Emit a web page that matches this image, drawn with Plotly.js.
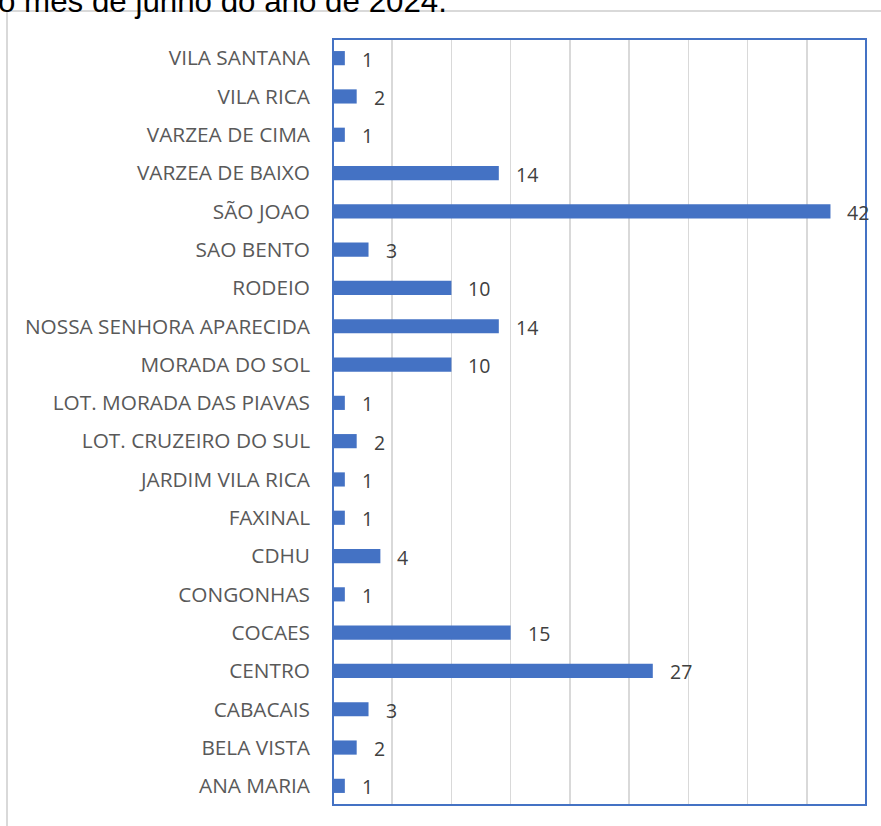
<!DOCTYPE html>
<html>
<head>
<meta charset="utf-8">
<script src="https://cdn.plot.ly/plotly-3.0.1.min.js"></script>
<style>
html,body{margin:0;padding:0;background:#fff;}
#chart{width:881px;height:826px;}
</style>
</head>
<body>
<div id="chart"></div>
<script>
const categories = ["ANA MARIA","BELA VISTA","CABACAIS","CENTRO","COCAES","CONGONHAS","CDHU","FAXINAL","JARDIM VILA RICA","LOT. CRUZEIRO DO SUL","LOT. MORADA DAS PIAVAS","MORADA DO SOL","NOSSA SENHORA APARECIDA","RODEIO","SAO BENTO","SÃO JOAO","VARZEA DE BAIXO","VARZEA DE CIMA","VILA RICA","VILA SANTANA"];
const values = [1,2,3,27,15,1,4,1,1,2,1,10,14,10,3,42,14,1,2,1];
const titleText = "o mês de junho do ano de 2024.";

const W = 881, H = 826;
const L = 333, R = 15, T = 39, B = 21;
const pw = W - L - R, ph = H - T - B;
const px = x => (x - L) / pw;
const py = y => (H - B - y) / ph;

const trace = {
  type: "bar",
  orientation: "h",
  y: categories,
  x: values,
  marker: {color: "#4472C4"},
  hoverinfo: "x+y"
};

const annotations = categories.map((c, i) => ({
  x: values[i], y: c, xref: "x", yref: "y",
  text: String(values[i]), showarrow: false,
  xanchor: "left", xshift: 15, yshift: -1,
  font: {family: "Open Sans, sans-serif", size: 19.5, color: "#404040"}
}));
annotations.push({
  xref: "paper", yref: "paper", x: px(-4), y: py(1),
  xanchor: "left", yanchor: "middle", showarrow: false,
  text: titleText,
  font: {family: "Liberation Sans, Arial, sans-serif", size: 31.3, color: "#000"}
});

const layout = {
  width: W, height: H,
  margin: {l: L, r: R, t: T, b: B, pad: 0},
  paper_bgcolor: "#fff", plot_bgcolor: "#fff",
  showlegend: false,
  bargap: 0.63,
  xaxis: {
    range: [0, 45], dtick: 5, tick0: 0,
    showgrid: true, gridcolor: "#d9d9d9", gridwidth: 1.5,
    showticklabels: false, zeroline: false, ticks: "",
    showline: false, fixedrange: true
  },
  yaxis: {
    type: "category", categoryorder: "array", categoryarray: categories,
    showgrid: false, zeroline: false, ticks: "",
    ticklabelstandoff: 22,
    tickfont: {family: "Open Sans, sans-serif", size: 20.8, color: "#595959"},
    showline: false, fixedrange: true
  },
  annotations: annotations,
  shapes: [
    {type: "rect", xref: "paper", yref: "paper", x0: 0, x1: 1, y0: 0, y1: 1,
     line: {color: "#4472C4", width: 2}, layer: "above"},
    {type: "line", xref: "paper", yref: "paper", x0: px(7), x1: px(7), y0: py(11), y1: py(840),
     line: {color: "#d9d9d9", width: 2}},
    {type: "line", xref: "paper", yref: "paper", x0: px(7), x1: px(900), y0: py(11), y1: py(11),
     line: {color: "#d9d9d9", width: 2}}
  ]
};

Plotly.newPlot("chart", [trace], layout, {displayModeBar: false, staticPlot: true});
</script>
</body>
</html>
